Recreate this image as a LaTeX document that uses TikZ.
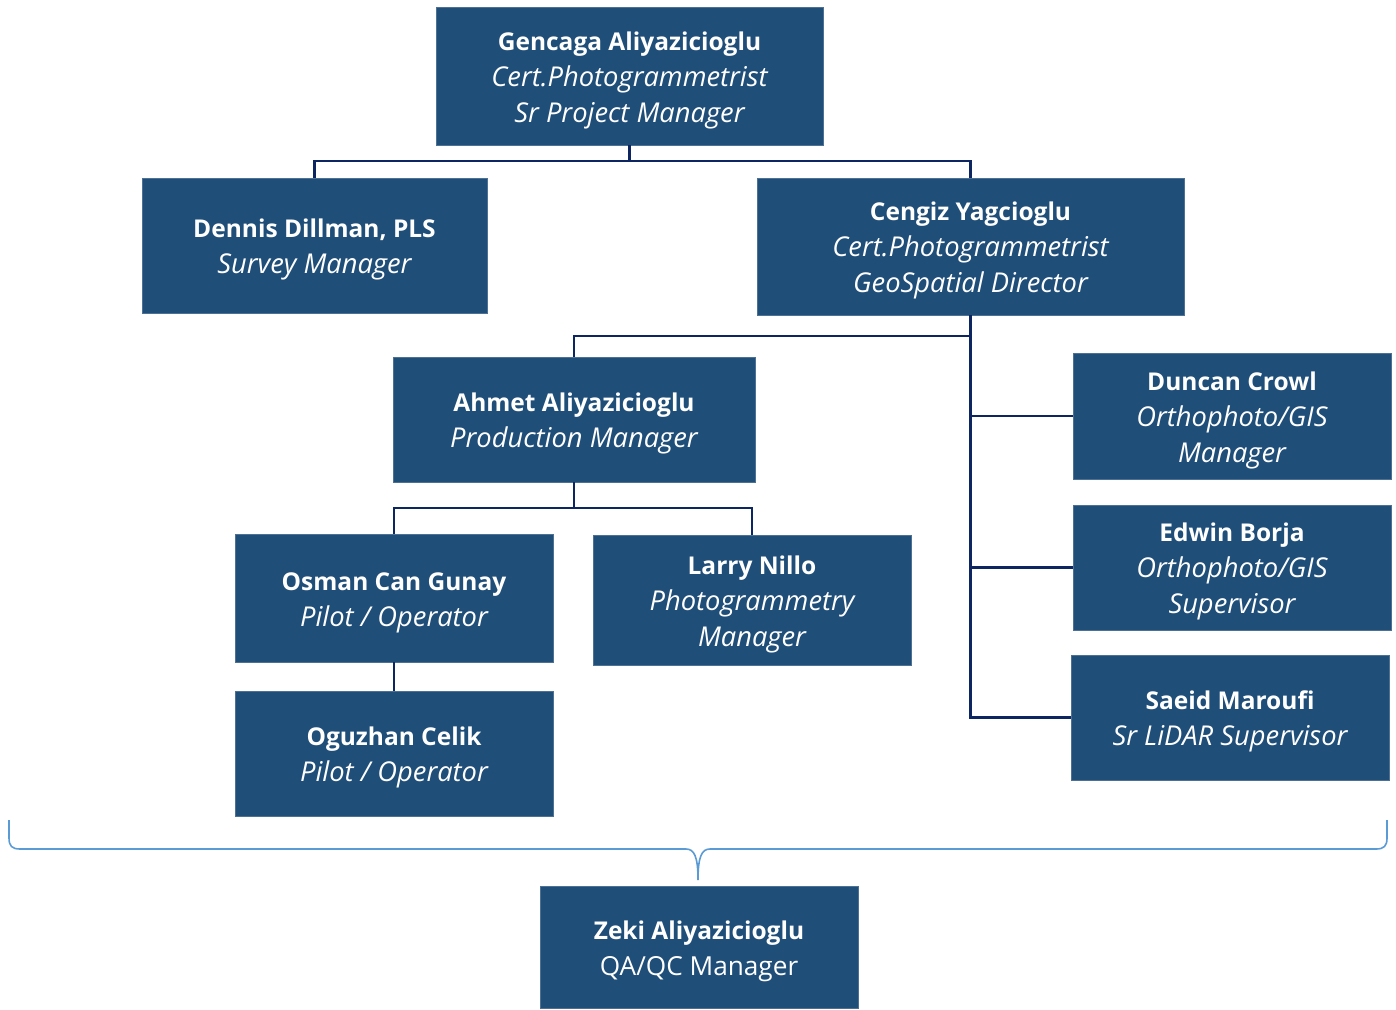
\documentclass[tikz,border=0pt]{standalone}
\usepackage{fontspec}
\setmainfont{Open Sans}
\definecolor{boxblue}{HTML}{1F4E79}
\definecolor{linenavy}{HTML}{0D2561}
\definecolor{bracket}{HTML}{5B9BD5}
\newcommand{\who}[1]{\rule{0pt}{27pt}\textbf{#1}}
\newcommand{\role}[1]{{\fontsize{27.3}{36.2}\selectfont\itshape #1}}
\begin{document}
\begin{tikzpicture}[x=1pt, y=-1pt,
	person/.style={rectangle, fill=boxblue, draw=boxblue!80!white, text=white, align=center,
		inner sep=0pt, font=\fontsize{24.5}{36.2}\selectfont},
	link/.style={draw=linenavy, line width=2.6pt}]
	\useasboundingbox (0,0) rectangle (1396,1009);
	% Place nodes
	\node [person, minimum width=387, minimum height=138] (gencaga) at (629.5,76) {\who{Gencaga Aliyazicioglu}\\\role{Cert.Photogrammetrist}\\\role{Sr Project Manager}};
	\node [person, minimum width=345, minimum height=135] (dennis) at (314.5,245.5) {\who{Dennis Dillman, PLS}\\\role{Survey Manager}};
	\node [person, minimum width=427, minimum height=137] (cengiz) at (970.5,246.5) {\who{Cengiz Yagcioglu}\\\role{Cert.Photogrammetrist}\\\role{GeoSpatial Director}};
	\node [person, minimum width=362, minimum height=125] (ahmet) at (574,419.5) {\who{Ahmet Aliyazicioglu}\\\role{Production Manager}};
	\node [person, minimum width=318, minimum height=126] (duncan) at (1232,416) {\who{Duncan Crowl}\\\role{Orthophoto/GIS}\\\role{Manager}};
	\node [person, minimum width=318, minimum height=125] (edwin) at (1232,567.5) {\who{Edwin Borja}\\\role{Orthophoto/GIS}\\\role{Supervisor}};
	\node [person, minimum width=318, minimum height=125] (saeid) at (1230,717.5) {\who{Saeid Maroufi}\\\role{Sr LiDAR Supervisor}};
	\node [person, minimum width=318, minimum height=128] (osman) at (394,598) {\who{Osman Can Gunay}\\\role{Pilot / Operator}};
	\node [person, minimum width=318, minimum height=130] (larry) at (752,600) {\who{Larry Nillo}\\\role{Photogrammetry}\\\role{Manager}};
	\node [person, minimum width=318, minimum height=125] (oguzhan) at (394,753.5) {\who{Oguzhan Celik}\\\role{Pilot / Operator}};
	\node [person, minimum width=318, minimum height=122] (zeki) at (699,947) {\who{Zeki Aliyazicioglu}\\{\fontsize{26.2}{36.2}\selectfont QA/QC Manager}};

	% Junctions
	\coordinate (jtop) at (629.5,161);
	\coordinate (jprod) at (970.5,336);
	\coordinate (jpilot) at (574,508);

	% Connectors
	\draw [link] (gencaga.south) -- (jtop) -| (dennis.north);
	\draw [link] (jtop) -| (cengiz.north);
	\draw [link] (cengiz.south) -- (jprod) -| (ahmet.north);
	\draw [link] (jprod) |- (duncan.west);
	\draw [link] (jprod) |- (edwin.west);
	\draw [link] (jprod) |- (saeid.west);
	\draw [link] (ahmet.south) -- (jpilot) -| (osman.north);
	\draw [link] (jpilot) -| (larry.north);
	\draw [link] (osman.south) -- (oguzhan.north);

	% Bracket over everyone
	\draw [bracket, line width=1.6pt] (9,820) -- (9,838) .. controls (9,846) and (12,849) .. (20,849) -- (686,849)
		.. controls (694,849) and (698,856) .. (698,880)
		.. controls (698,856) and (702,849) .. (710,849) -- (1376,849)
		.. controls (1384,849) and (1387,846) .. (1387,838) -- (1387,820);
\end{tikzpicture}
\end{document}
